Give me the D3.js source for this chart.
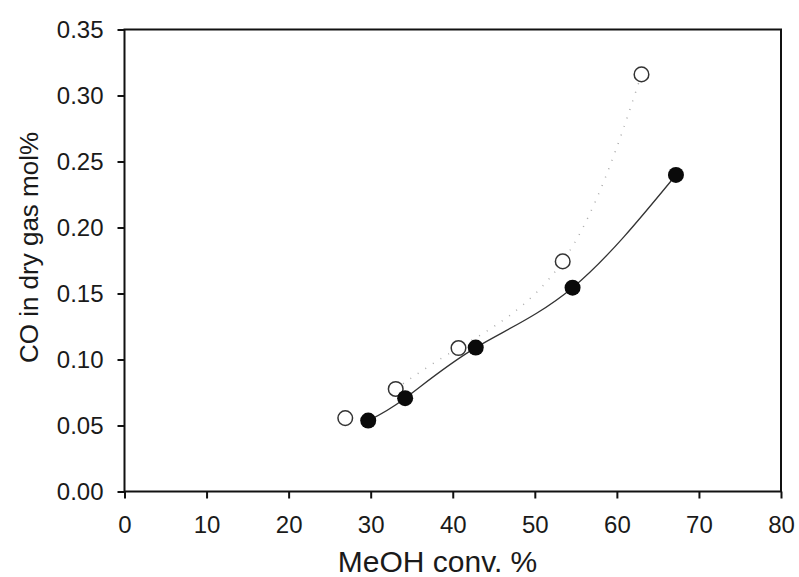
<!DOCTYPE html>
<html>
<head>
<meta charset="utf-8">
<script src="https://cdn.jsdelivr.net/npm/d3@7"></script>
<style>
  body { margin: 0; background: #fff; }
  text { font-family: "Liberation Sans", Arial, sans-serif; fill: #1a1a1a; }
</style>
</head>
<body>
<svg id="vis" width="799" height="577"></svg>
<script>
// filled circles
var filledX = [29.7, 34.2, 42.8, 54.6, 67.2];
var filledY = [0.0537, 0.0707, 0.109, 0.1544, 0.2398];
// open circles
var openX = [26.9, 33.05, 40.7, 53.4, 63.0];
var openY = [0.0556, 0.0777, 0.1087, 0.1743, 0.316];

var xTicks = [0, 10, 20, 30, 40, 50, 60, 70, 80];
var yTicks = [0, 0.05, 0.10, 0.15, 0.20, 0.25, 0.30, 0.35];

var svg = d3.select("#vis");
var plotLeft = 124.5, plotRight = 781, plotTop = 29.5, plotBottom = 491.5;

var xScale = d3.scaleLinear().domain([0, 80]).range([plotLeft, plotRight]);
var yScale = d3.scaleLinear().domain([0, 0.35]).range([plotBottom, plotTop]);

var filled = filledX.map((x, i) => ({ x: x, y: filledY[i] }));
var open = openX.map((x, i) => ({ x: x, y: openY[i] }));

// frame
svg.append("rect")
  .attr("x", plotLeft).attr("y", plotTop)
  .attr("width", plotRight - plotLeft).attr("height", plotBottom - plotTop)
  .attr("fill", "none").attr("stroke", "#111").attr("stroke-width", 2);

// axes
var xAxis = svg.append("g")
  .attr("transform", `translate(0,${plotBottom})`)
  .call(d3.axisBottom(xScale).tickValues(xTicks).tickSize(7).tickPadding(17).tickFormat(d3.format("d")));
var yAxis = svg.append("g")
  .attr("transform", `translate(${plotLeft},0)`)
  .call(d3.axisLeft(yScale).tickValues(yTicks).tickSize(7).tickPadding(14).tickFormat(d3.format(".2f")));

[xAxis, yAxis].forEach(function(a) {
  a.select(".domain").remove();
  a.selectAll("line").attr("stroke", "#111").attr("stroke-width", 2);
  a.selectAll("text")
    .style("font-size", "24px")
    .style("font-family", "Liberation Sans, Arial, sans-serif")
    .attr("fill", "#1a1a1a");
});

// lines
var line = d3.line()
  .x(d => xScale(d.x))
  .y(d => yScale(d.y))
  .curve(d3.curveNatural);

svg.append("path")
  .datum(open.slice(1))
  .attr("d", line)
  .attr("fill", "none")
  .attr("stroke", "#aaa")
  .attr("stroke-width", 1.5)
  .attr("stroke-dasharray", "1,8");

svg.append("path")
  .datum(filled)
  .attr("d", line)
  .attr("fill", "none")
  .attr("stroke", "#333")
  .attr("stroke-width", 1.3);

// points
svg.append("g")
  .selectAll("circle")
  .data(open)
  .enter()
  .append("circle")
  .attr("cx", d => xScale(d.x))
  .attr("cy", d => yScale(d.y))
  .attr("r", 7.3)
  .attr("fill", "#fff")
  .attr("stroke", "#333")
  .attr("stroke-width", 1.5);

svg.append("g")
  .selectAll("circle")
  .data(filled)
  .enter()
  .append("circle")
  .attr("cx", d => xScale(d.x))
  .attr("cy", d => yScale(d.y))
  .attr("r", 8)
  .attr("fill", "#0a0a0a");

// axis titles
svg.append("text")
  .attr("x", 437.5)
  .attr("y", 572)
  .attr("text-anchor", "middle")
  .style("font-size", "30px")
  .text("MeOH conv. %");

svg.append("text")
  .attr("transform", `translate(38,247.5) rotate(-90)`)
  .attr("text-anchor", "middle")
  .style("font-size", "26px")
  .text("CO in dry gas mol%");
</script>
</body>
</html>
